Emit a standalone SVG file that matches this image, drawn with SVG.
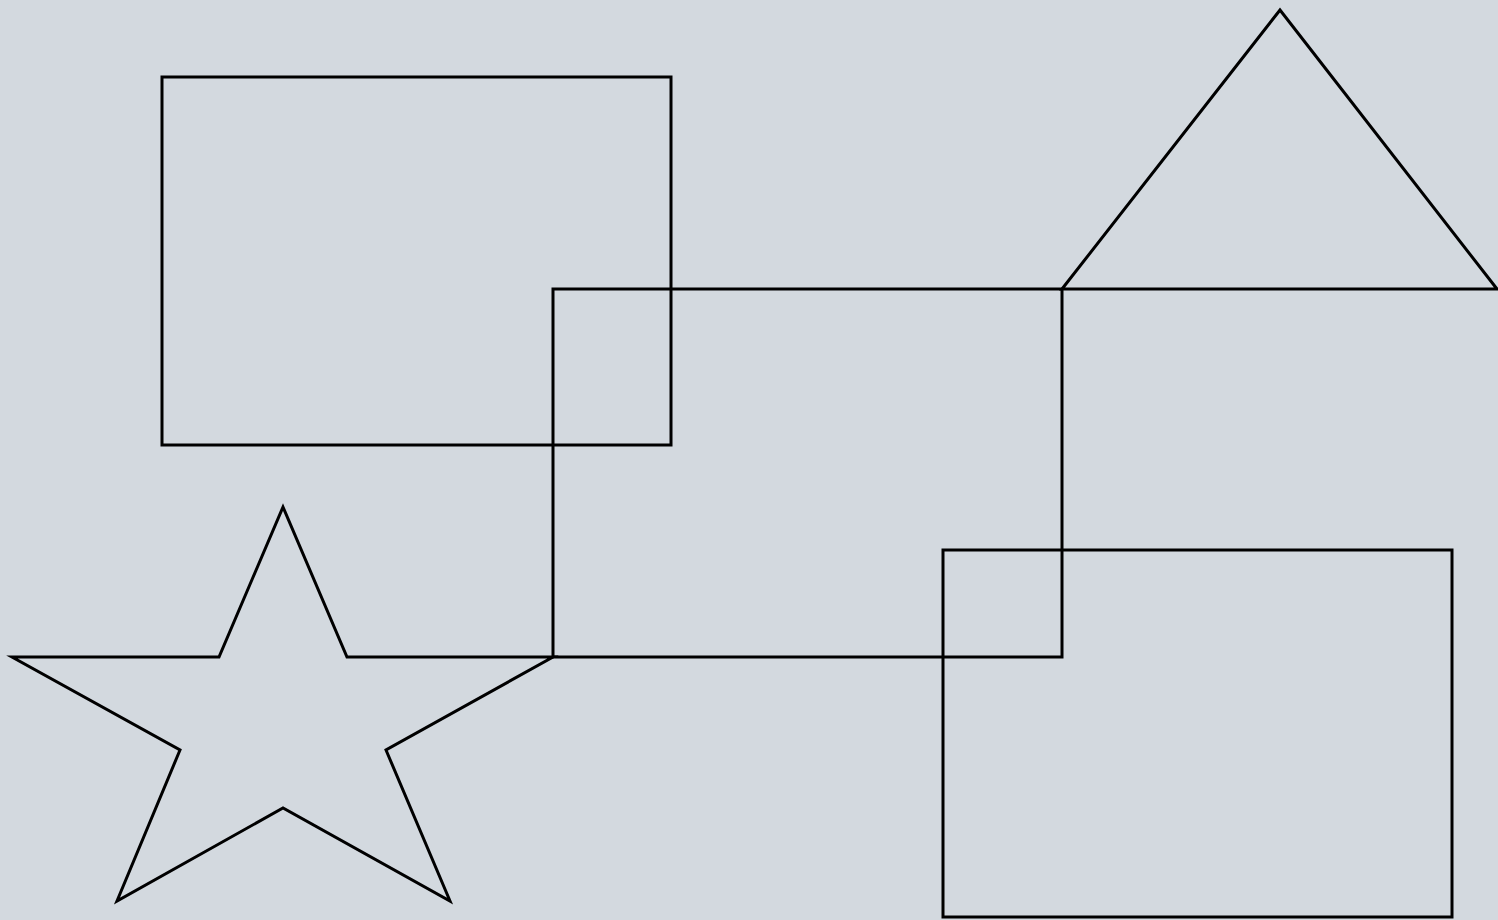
<svg xmlns="http://www.w3.org/2000/svg" width="1498" height="920" viewBox="0 0 1498 920">
<style>
.s{fill:none;stroke:#000;stroke-width:3}
</style>
<rect x="0" y="0" width="1498" height="920" fill="#d3d9df"/>
<g id="rect1"><rect class="s" x="162" y="77" width="509" height="368"/></g>
<g id="rect2"><rect class="s" x="553" y="289" width="509" height="368"/></g>
<g id="rect3"><rect class="s" x="943" y="550" width="509" height="367"/></g>
<g id="triangle"><polygon class="s" points="1062,289 1280,10 1497,289"/></g>
<g id="star"><polygon class="s" points="283,507 347,657 553,657 386,750 450,901 283,808 117,901 180,750 12,657 219,657"/></g>
</svg>
